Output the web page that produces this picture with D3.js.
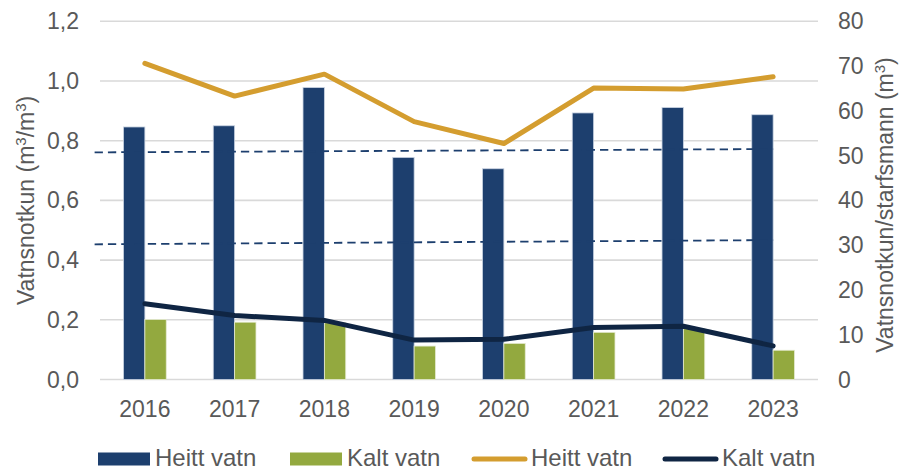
<!DOCTYPE html>
<html lang="no">
	<head>
		<meta charset="utf-8">
		<title>vatnsnotkun</title>
		<script type="text/javascript" src="https://cdn.jsdelivr.net/npm/d3@7"></script>
		<style type="text/css">
			body { margin: 0; background: #ffffff; }
			text { font-family: "Liberation Sans", Arial, sans-serif; fill: #595959; }
		</style>
	</head>

	<body>
        <script type="text/javascript">

            // chart width and height
			var w = 903;
			var h = 471;

			// data
			var years = ["2016", "2017", "2018", "2019", "2020", "2021", "2022", "2023"];
			var heittBar = [0.846, 0.850, 0.978, 0.744, 0.706, 0.893, 0.911, 0.887];   // m3/m3, left axis
			var kaltBar = [0.201, 0.192, 0.190, 0.112, 0.121, 0.158, 0.170, 0.098];    // m3/m3, left axis
			var heittLine = [70.6, 63.3, 68.2, 57.6, 52.7, 65.1, 64.9, 67.6];          // m3 per starfsmann, right axis
			var kaltLine = [16.9, 14.3, 13.2, 8.8, 9.0, 11.6, 11.9, 7.5];              // m3 per starfsmann, right axis
			// dashed reference lines: [start index, start value], [end index, end value] on left axis
			var dashUpper = [[-0.56, 0.761], [7, 0.772]];
			var dashLower = [[-0.56, 0.453], [7, 0.467]];
			var leftTicks = [0, 0.2, 0.4, 0.6, 0.8, 1.0, 1.2];
			var rightTicks = [0, 10, 20, 30, 40, 50, 60, 70, 80];

			var blue = "#1d3f6e", green = "#93a93f", gold = "#d49d2f", navy = "#0f2543";

			// plot area (note: "top" is taken by window.top)
			var plotLeft = 100, plotRight = 818, plotTop = 21.3, plotBottom = 379.5;

			var xScale = d3.scaleBand()
				.domain(years)
				.range([plotLeft, plotRight]);

			var bw = xScale.bandwidth();
			var barW = bw * 0.238;

			// fractional category index -> x
			var xPos = function(i) {
				return xScale(years[0]) + bw / 2 + i * bw;
			};

			var yLeft = d3.scaleLinear().domain([0, 1.2]).range([plotBottom, plotTop]);
			var yRight = d3.scaleLinear().domain([0, 80]).range([plotBottom, plotTop]);

			//create SVG element
			var svg = d3.select("body")
				.append("svg")
				.attr("width", w)
				.attr("height", h);

			// gridlines
			svg.append("g")
				.selectAll("line")
				.data(leftTicks)
				.enter()
				.append("line")
				.attr("x1", plotLeft)
				.attr("x2", plotRight)
				.attr("y1", function(d) { return yLeft(d); })
				.attr("y2", function(d) { return yLeft(d); })
				.attr("stroke", "#d9d9d9")
				.attr("stroke-width", 1.6);

			// left tick labels
			svg.append("g")
				.selectAll("text")
				.data(leftTicks)
				.enter()
				.append("text")
				.attr("x", 79)
				.attr("y", function(d) { return yLeft(d); })
				.attr("dy", "0.35em")
				.attr("text-anchor", "end")
				.style("font-size", "23px")
				.text(function(d) { return d3.format(".1f")(d).replace(".", ","); });

			// right tick labels
			svg.append("g")
				.selectAll("text")
				.data(rightTicks)
				.enter()
				.append("text")
				.attr("x", 838)
				.attr("y", function(d) { return yRight(d); })
				.attr("dy", "0.35em")
				.style("font-size", "23px")
				.text(function(d) { return d; });

			// year labels
			svg.append("g")
				.selectAll("text")
				.data(years)
				.enter()
				.append("text")
				.attr("x", function(d) { return xScale(d) + bw / 2; })
				.attr("y", 417)
				.attr("text-anchor", "middle")
				.style("font-size", "23px")
				.text(function(d) { return d; });

			// bars
			svg.append("g")
				.selectAll("rect")
				.data(heittBar)
				.enter()
				.append("rect")
				.attr("x", function(d, i) { return xScale(years[i]) + bw / 2 - barW; })
				.attr("y", function(d) { return yLeft(d); })
				.attr("width", barW)
				.attr("height", function(d) { return plotBottom - yLeft(d); })
				.attr("fill", blue)
				.attr("stroke", "#c9d3e2")
				.attr("stroke-width", 0.8);

			svg.append("g")
				.selectAll("rect")
				.data(kaltBar)
				.enter()
				.append("rect")
				.attr("x", function(d, i) { return xScale(years[i]) + bw / 2; })
				.attr("y", function(d) { return yLeft(d); })
				.attr("width", barW)
				.attr("height", function(d) { return plotBottom - yLeft(d); })
				.attr("fill", green)
				.attr("stroke", "#e4ead0")
				.attr("stroke-width", 0.8);

			// dashed reference lines
			var dashLine = d3.line()
				.x(function(d) { return xPos(d[0]); })
				.y(function(d) { return yLeft(d[1]); });

			[dashUpper, dashLower].forEach(function(dl) {
				svg.append("path")
					.attr("d", dashLine(dl))
					.attr("fill", "none")
					.attr("stroke", blue)
					.attr("stroke-width", 1.8)
					.attr("stroke-dasharray", "8.3,5");
			});

			// lines on right axis
			var line = d3.line()
				.x(function(d, i) { return xPos(i); })
				.y(function(d) { return yRight(d); });

			svg.append("path")
				.attr("d", line(heittLine))
				.attr("fill", "none")
				.attr("stroke", gold)
				.attr("stroke-width", 5)
				.attr("stroke-linecap", "round")
				.attr("stroke-linejoin", "round");

			svg.append("path")
				.attr("d", line(kaltLine))
				.attr("fill", "none")
				.attr("stroke", navy)
				.attr("stroke-width", 5)
				.attr("stroke-linecap", "round")
				.attr("stroke-linejoin", "round");

			// axis titles
			var lt = svg.append("text")
				.attr("transform", "translate(34," + (plotBottom + plotTop) / 2 + ") rotate(-90)")
				.attr("text-anchor", "middle")
				.style("font-size", "23px");
			lt.append("tspan").text("Vatnsnotkun (m");
			lt.append("tspan").attr("baseline-shift", "super").style("font-size", "15px").text("3");
			lt.append("tspan").text("/m");
			lt.append("tspan").attr("baseline-shift", "super").style("font-size", "15px").text("3");
			lt.append("tspan").text(")");

			var rt = svg.append("text")
				.attr("transform", "translate(893,205) rotate(-90)")
				.attr("text-anchor", "middle")
				.style("font-size", "23px");
			rt.append("tspan").text("Vatnsnotkun/starfsmann (m");
			rt.append("tspan").attr("baseline-shift", "super").style("font-size", "15px").text("3");
			rt.append("tspan").text(")");

			// legend
			var legend = [
				{ label: "Heitt vatn", type: "rect", color: blue, x: 98 },
				{ label: "Kalt vatn", type: "rect", color: green, x: 290 },
				{ label: "Heitt vatn", type: "line", color: gold, x: 472 },
				{ label: "Kalt vatn", type: "line", color: navy, x: 663 }
			];

			var lg = svg.append("g")
				.selectAll("g")
				.data(legend)
				.enter()
				.append("g")
				.attr("transform", function(d) { return "translate(" + d.x + ",459)"; });

			lg.filter(function(d) { return d.type == "rect"; })
				.append("rect")
				.attr("x", 0)
				.attr("y", -6.5)
				.attr("width", 52)
				.attr("height", 13)
				.attr("fill", function(d) { return d.color; });

			lg.filter(function(d) { return d.type == "line"; })
				.append("line")
				.attr("x1", 2)
				.attr("x2", 53)
				.attr("stroke", function(d) { return d.color; })
				.attr("stroke-width", 5)
				.attr("stroke-linecap", "round");

			lg.append("text")
				.attr("x", function(d) { return d.type == "rect" ? 57 : 59; })
				.attr("y", 7)
				.style("font-size", "24px")
				.text(function(d) { return d.label; });

        </script>
	</body>
</html>
